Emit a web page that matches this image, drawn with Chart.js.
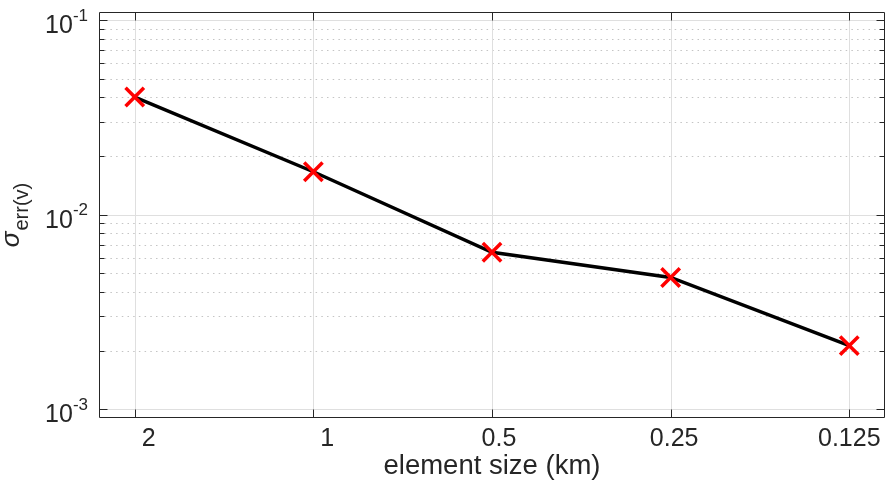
<!DOCTYPE html>
<html>
<head>
<meta charset="utf-8">
<script src="https://cdn.jsdelivr.net/npm/chart.js@4.4.1/dist/chart.umd.min.js"></script>
<style>
  html, body { margin: 0; padding: 0; background: #fff; overflow: hidden; }
  #wrap { width: 887px; height: 483px; position: relative; }
  #errChart { display: block; }
</style>
</head>
<body>
<div id="wrap"><canvas id="errChart"></canvas></div>
<script>
// element sizes (km) at equal spacing; labels padded the way num2str pads them
const sizeLabels = ['    2', '    1', '  0.5', ' 0.25', '0.125'];
const sigmaErr = [0.0402, 0.0166, 0.0064, 0.00475, 0.00212];
const yTickValues = [0.001, 0.01, 0.1];
const yTickExps = ['-3', '-2', '-1'];
const yMin = 9e-4, yMax = 0.11;

const AXIS = '#262626';
const FONT = "'Liberation Sans', Arial, Helvetica, sans-serif";

// MATLAB-like axes: grid, box, inward ticks, labels with superscripts
const matlabAxes = {
    id: 'matlabAxes',
    beforeDatasetsDraw(chart) {
        const { ctx, chartArea: a, scales: { x, y } } = chart;
        ctx.save();
        ctx.lineWidth = 1;

        // minor y grid, dotted
        ctx.strokeStyle = '#c4c4c4';
        ctx.setLineDash([1.5, 4.2]);
        for (let d = -4; d <= 0; d++) {
            for (let m = 2; m <= 9; m++) {
                const py = Math.round(y.getPixelForValue(m * Math.pow(10, d))) + 0.5;
                if (py <= a.top + 1 || py >= a.bottom - 1) continue;
                ctx.beginPath();
                ctx.moveTo(a.left, py);
                ctx.lineTo(a.right, py);
                ctx.stroke();
            }
        }
        ctx.setLineDash([]);

        // major grid, solid
        ctx.strokeStyle = '#dfdfdf';
        yTickValues.forEach(v => {
            const py = Math.round(y.getPixelForValue(v)) + 0.5;
            ctx.beginPath();
            ctx.moveTo(a.left, py);
            ctx.lineTo(a.right, py);
            ctx.stroke();
        });
        sizeLabels.forEach((_, i) => {
            const px = Math.round(x.getPixelForValue(i)) + 0.5;
            ctx.beginPath();
            ctx.moveTo(px, a.top);
            ctx.lineTo(px, a.bottom);
            ctx.stroke();
        });
        ctx.restore();
    },
    afterDatasetsDraw(chart) {
        const { ctx, chartArea: a, scales: { x, y } } = chart;
        ctx.save();
        ctx.strokeStyle = AXIS;
        ctx.lineWidth = 1;
        const L = Math.round(a.left) + 0.5, R = Math.round(a.right) - 0.5;
        const T = Math.round(a.top) + 0.5, B = Math.round(a.bottom) - 0.5;

        ctx.beginPath();
        // box
        ctx.rect(L, T, R - L, B - T);
        // minor y ticks
        for (let d = -4; d <= 0; d++) {
            for (let m = 2; m <= 9; m++) {
                const py = Math.round(y.getPixelForValue(m * Math.pow(10, d))) + 0.5;
                if (py <= a.top + 1 || py >= a.bottom - 1) continue;
                ctx.moveTo(L, py); ctx.lineTo(L + 5, py);
                ctx.moveTo(R, py); ctx.lineTo(R - 5, py);
            }
        }
        // major y ticks
        yTickValues.forEach(v => {
            const py = Math.round(y.getPixelForValue(v)) + 0.5;
            ctx.moveTo(L, py); ctx.lineTo(L + 8, py);
            ctx.moveTo(R, py); ctx.lineTo(R - 8, py);
        });
        // x ticks
        sizeLabels.forEach((_, i) => {
            const px = Math.round(x.getPixelForValue(i)) + 0.5;
            ctx.moveTo(px, T); ctx.lineTo(px, T + 8);
            ctx.moveTo(px, B); ctx.lineTo(px, B - 8);
        });
        ctx.stroke();

        ctx.fillStyle = AXIS;
        // y tick labels 10^n
        yTickValues.forEach((v, i) => {
            const py = y.getPixelForValue(v);
            ctx.font = `17px ${FONT}`;
            const expW = ctx.measureText(yTickExps[i]).width;
            ctx.textAlign = 'right';
            ctx.textBaseline = 'alphabetic';
            ctx.fillText(yTickExps[i], 88, py + 0.5);
            ctx.font = `25px ${FONT}`;
            ctx.fillText('10', 88 - expW, py + 13);
        });

        // x tick labels
        ctx.font = `25px ${FONT}`;
        ctx.textAlign = 'center';
        sizeLabels.forEach((lab, i) => {
            ctx.fillText(lab, x.getPixelForValue(i), 446);
        });

        // x title
        ctx.font = `27.5px ${FONT}`;
        ctx.fillText('element size (km)', (a.left + a.right) / 2, 474);

        // y title: sigma with subscript, rotated
        ctx.translate(19, (a.top + a.bottom) / 2);
        ctx.rotate(-Math.PI / 2);
        ctx.textAlign = 'left';
        ctx.font = `italic 26px ${FONT}`;
        const sw = ctx.measureText('σ').width;
        ctx.font = `20px ${FONT}`;
        const subW = ctx.measureText('err(v)').width;
        const x0 = -(sw + subW + 1) / 2;
        ctx.font = `italic 26px ${FONT}`;
        ctx.fillText('σ', x0, 0);
        ctx.font = `20px ${FONT}`;
        ctx.fillText('err(v)', x0 + sw + 1, 9);
        ctx.restore();
    }
};

new Chart(document.getElementById('errChart').getContext('2d'), {
    type: 'line',
    data: {
        datasets: [{
            data: sigmaErr.map((v, i) => ({ x: i, y: v })),
            borderColor: '#000000',
            borderWidth: 3.5,
            tension: 0,
            pointStyle: 'crossRot',
            pointRadius: 13,
            pointHoverRadius: 13,
            pointBorderColor: '#ff0000',
            pointBackgroundColor: '#ff0000',
            pointBorderWidth: 3.5
        }]
    },
    options: {
        responsive: true,
        maintainAspectRatio: false,
        animation: false,
        events: [],
        layout: { autoPadding: false, padding: { top: 12, right: 2, left: 0, bottom: 0 } },
        plugins: { legend: { display: false }, tooltip: { enabled: false } },
        scales: {
            x: {
                type: 'linear',
                min: -0.2,
                max: 4.2,
                grid: { display: false },
                border: { display: false },
                ticks: { display: false },
                afterFit: s => { s.height = 65; }
            },
            y: {
                type: 'logarithmic',
                min: yMin,
                max: yMax,
                grid: { display: false },
                border: { display: false },
                ticks: { display: false },
                afterFit: s => { s.width = 99; }
            }
        }
    },
    plugins: [matlabAxes]
});
</script>
</body>
</html>
